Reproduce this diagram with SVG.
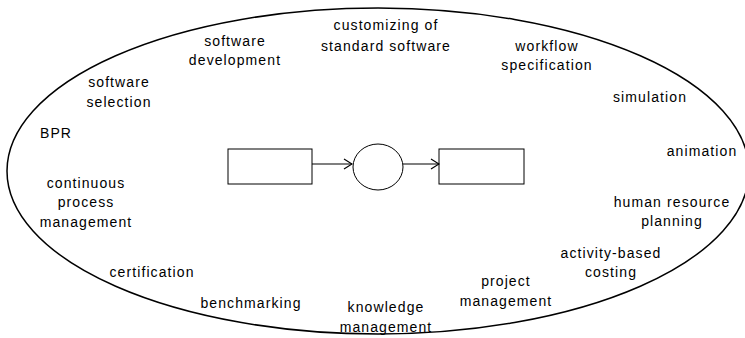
<svg xmlns="http://www.w3.org/2000/svg" width="745" height="338" viewBox="0 0 745 338">
<defs>
<marker id="ah" markerWidth="10" markerHeight="12" refX="9" refY="6" orient="auto" markerUnits="userSpaceOnUse">
<path d="M1,1 L9,6 L1,11" fill="none" stroke="#000" stroke-width="1.2"/>
</marker>
</defs>
<style>
text{font-family:"Liberation Sans",Arial,sans-serif;font-size:14px;letter-spacing:1.1px;fill:#000;text-anchor:middle}
.n{fill:#fff;stroke:#000;stroke-width:1}
.c{stroke:#000;stroke-width:1.2;fill:none}
</style>
<rect width="745" height="338" fill="#fff"/>
<g id="boundary">
<ellipse cx="378" cy="171" rx="371" ry="163" fill="none" stroke="#000" stroke-width="1.5"/>
</g>
<g id="box1"><rect class="n" x="228" y="149" width="84" height="35"/></g>
<g id="circle"><ellipse class="n" cx="378" cy="167" rx="25" ry="23"/></g>
<g id="box2"><rect class="n" x="439" y="149" width="85" height="35"/></g>
<g id="connectors">
<line class="c" x1="312" y1="164" x2="352" y2="164" marker-end="url(#ah)"/>
<line class="c" x1="403" y1="164" x2="439" y2="164" marker-end="url(#ah)"/>
</g>
<g id="labels">
<text x="386" y="30">customizing of</text>
<text x="386" y="51">standard software</text>
<text x="235" y="46">software</text>
<text x="235" y="65">development</text>
<text x="547" y="51">workflow</text>
<text x="547" y="70">specification</text>
<text x="119" y="87">software</text>
<text x="119" y="107">selection</text>
<text x="650" y="102">simulation</text>
<text x="56" y="138">BPR</text>
<text x="702" y="156">animation</text>
<text x="86" y="188">continuous</text>
<text x="86" y="207">process</text>
<text x="86" y="227">management</text>
<text x="672" y="207">human resource</text>
<text x="672" y="226">planning</text>
<text x="611" y="258">activity-based</text>
<text x="611" y="277">costing</text>
<text x="152" y="277">certification</text>
<text x="506" y="286">project</text>
<text x="506" y="306">management</text>
<text x="251" y="308">benchmarking</text>
<text x="386" y="312">knowledge</text>
<text x="386" y="332">management</text>
</g>
</svg>
